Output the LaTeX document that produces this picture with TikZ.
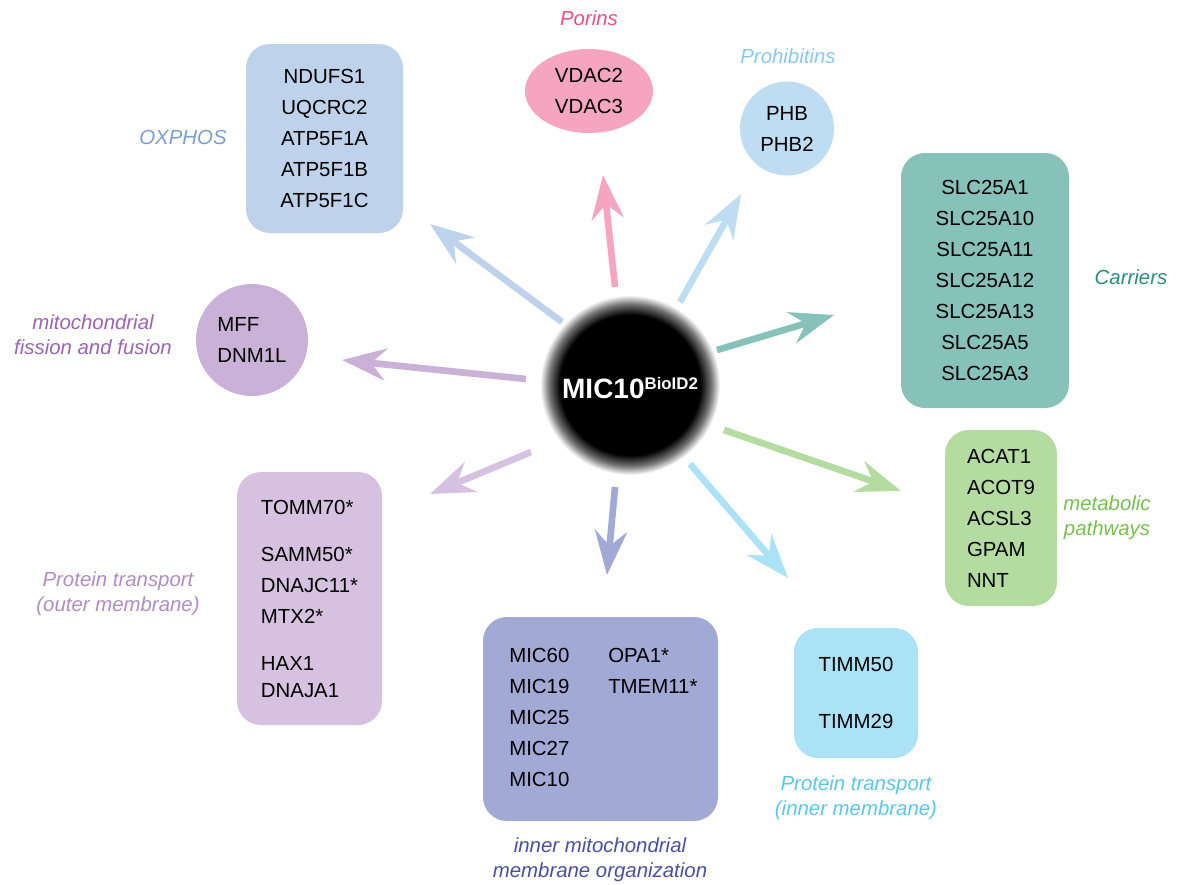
\documentclass[tikz,border=0pt]{standalone}
\usepackage{fontspec}
\setmainfont{Liberation Sans}
\usetikzlibrary{arrows.meta,shapes.geometric}
\definecolor{oxbox}{HTML}{BED3EB}\definecolor{oxlab}{HTML}{7B9FD0}
\definecolor{pobox}{HTML}{F5A5BF}\definecolor{polab}{HTML}{E8507F}
\definecolor{phbox}{HTML}{BEDDF3}\definecolor{phlab}{HTML}{8AC6EE}
\definecolor{cabox}{HTML}{86C2B9}\definecolor{calab}{HTML}{2A8C7F}
\definecolor{mebox}{HTML}{B4DCA0}\definecolor{melab}{HTML}{76C04E}
\definecolor{tibox}{HTML}{ACE2F6}\definecolor{tilab}{HTML}{5CC6EA}
\definecolor{inbox}{HTML}{A1A9D4}\definecolor{inlab}{HTML}{4950A3}
\definecolor{oubox}{HTML}{D6C2E0}\definecolor{oulab}{HTML}{B08CC5}
\definecolor{fibox}{HTML}{C9B1D7}\definecolor{filab}{HTML}{9B63B4}
\pgfdeclareradialshading{ballshade}{\pgfpoint{0bp}{0bp}}{color(0bp)=(black); color(19.5bp)=(black); color(22.5bp)=(black!55); color(25bp)=(white); color(50bp)=(white)}
\begin{document}
\begin{tikzpicture}[x=0.75pt,y=-0.75pt,
  txt/.style={font=\fontsize{15.3}{23.25}\selectfont, text=black},
  boxnode/.style={draw=none, rounded corners=18pt, inner sep=0pt, txt, align=center},
  lab/.style={font=\fontsize{15.3}{18.75}\selectfont\itshape, align=center},
  arr/.style={line width=5pt, -{Stealth[length=33pt,width=24pt,inset=11pt]}}]
\useasboundingbox (0,0) rectangle (1178,885);
% centre
\shade[shading=ballshade] (630,385) circle[radius=90];
\node[text=white, font=\bfseries\fontsize{21}{24}\selectfont] (mic) at (630,388)
  {MIC10\raisebox{7pt}{\fontsize{12.6}{14}\selectfont BioID2}};
% boxes
\node[boxnode, fill=oxbox, minimum width=117.75pt, minimum height=141.75pt] (ox) at (324.5,138.5)
  {NDUFS1\\UQCRC2\\ATP5F1A\\ATP5F1B\\ATP5F1C};
\node[ellipse, fill=pobox, inner sep=0pt, minimum width=96pt, minimum height=63pt, txt, align=center] (po) at (589,91)
  {VDAC2\\VDAC3};
\node[circle, fill=phbox, inner sep=0pt, minimum size=70.5pt, txt, align=center] (ph) at (787,128.5)
  {PHB\\PHB2};
\node[boxnode, fill=cabox, minimum width=126pt, minimum height=191.25pt] (ca) at (985,280.5)
  {SLC25A1\\SLC25A10\\SLC25A11\\SLC25A12\\SLC25A13\\SLC25A5\\SLC25A3};
\node[boxnode, fill=mebox, minimum width=84pt, minimum height=132pt, align=left] (me) at (1001,518)
  {ACAT1\\ACOT9\\ACSL3\\GPAM\\NNT};
\node[boxnode, fill=tibox, minimum width=93pt, minimum height=97.5pt] (ti) at (856,693)
  {TIMM50\\[20pt]TIMM29};
\node[boxnode, fill=inbox, minimum width=176.25pt, minimum height=153pt] (in) at (600.5,719) {};
\node[txt, align=left, anchor=west, inner sep=0pt] (inl) at (509,717)
  {MIC60\\MIC19\\MIC25\\MIC27\\MIC10};
\node[txt, align=left, anchor=west, inner sep=0pt] (inr) at (608,670.5)
  {OPA1*\\TMEM11*};
\node[boxnode, fill=oubox, minimum width=108.75pt, minimum height=189.75pt, align=left] (ou) at (309.5,598.5)
  {TOMM70*\\[12pt]SAMM50*\\DNAJC11*\\MTX2*\\[12pt]HAX1\\[-3pt]DNAJA1};
\node[circle, fill=fibox, inner sep=0pt, minimum size=84pt, txt, align=left] (fi) at (252,340)
  {MFF\\DNM1L};
% labels
\node[lab, text=oxlab] (oxl) at (183,137) {OXPHOS};
\node[lab, text=polab] (pol) at (589,18) {Porins};
\node[lab, text=phlab] (phl) at (788,56) {Prohibitins};
\node[lab, text=calab] (cal) at (1131,277) {Carriers};
\node[lab, text=melab] (mel) at (1107,518) {metabolic\\pathways};
\node[lab, text=tilab] (til) at (856,798) {Protein transport\\(inner membrane)};
\node[lab, text=inlab] (inlb) at (600,860) {inner mitochondrial\\membrane organization};
\node[lab, text=oulab] (oul) at (118,594) {Protein transport\\(outer membrane)};
\node[lab, text=filab] (fil) at (93,335) {mitochondrial\\fission and fusion};
% arrow end points
\coordinate (s1) at (562,322); \coordinate (e1) at (430,224);
\coordinate (s2) at (615,287); \coordinate (e2) at (603,175);
\coordinate (s3) at (680,302); \coordinate (e3) at (741,194);
\coordinate (s4) at (717,350); \coordinate (e4) at (834,315);
\coordinate (s5) at (724,430); \coordinate (e5) at (901,491);
\coordinate (s6) at (690,464); \coordinate (e6) at (788,578);
\coordinate (s7) at (615,487); \coordinate (e7) at (607,575);
\coordinate (s8) at (531,452); \coordinate (e8) at (430,494);
\coordinate (s9) at (526,379); \coordinate (e9) at (342,360);
\draw[arr, oxbox] (s1) -- (e1);
\draw[arr, pobox] (s2) -- (e2);
\draw[arr, phbox] (s3) -- (e3);
\draw[arr, cabox] (s4) -- (e4);
\draw[arr, mebox] (s5) -- (e5);
\draw[arr, tibox] (s6) -- (e6);
\draw[arr, inbox] (s7) -- (e7);
\draw[arr, oubox] (s8) -- (e8);
\draw[arr, fibox] (s9) -- (e9);
\end{tikzpicture}
\end{document}
